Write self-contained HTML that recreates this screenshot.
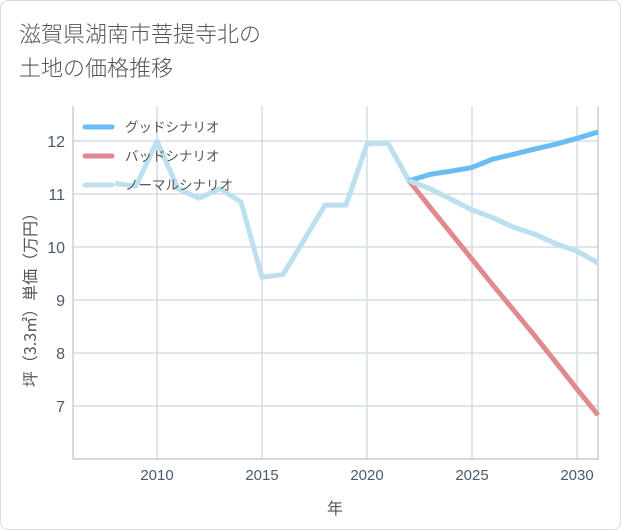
<!DOCTYPE html>
<html><head><meta charset="utf-8"><style>
body{margin:0;background:#fff;font-family:"Liberation Sans","Noto Sans CJK JP",sans-serif}
#wrap{position:relative;width:619px;height:528px;border:1px solid #ddd;border-radius:8px;overflow:hidden}
.title{position:absolute;left:18px;top:15px;font-size:22px;color:#555;line-height:34px;font-family:"Noto Sans CJK JP",sans-serif;font-weight:300}
</style></head><body>
<div id="wrap">
<div class="title">滋賀県湖南市菩提寺北の<br>土地の価格推移</div>
<svg id="c" width="621" height="530" style="position:absolute;left:0;top:0"></svg>
</div>
<script>
const xTicks=[2010,2015,2020,2025,2030];
const yTicks=[7,8,9,10,11,12];
const normalYears=[2008,2009,2010,2011,2012,2013,2014,2015,2016,2017,2018,2019,2020,2021,2022,2023,2024,2025,2026,2027,2028,2029,2030,2031];
const normalVals=[11.2,11.15,12.0,11.1,10.92,11.1,10.85,9.43,9.48,10.13,10.79,10.79,11.94,11.96,11.25,11.1,10.9,10.7,10.55,10.37,10.24,10.06,9.92,9.7];
const futureYears=[2022,2023,2024,2025,2026,2027,2028,2029,2030,2031];
const goodVals=[11.25,11.37,11.43,11.5,11.66,11.75,11.85,11.94,12.05,12.17];
const badVals=[11.25,10.75,10.26,9.77,9.28,8.8,8.32,7.82,7.32,6.83];
const legendLabels=["グッドシナリオ","バッドシナリオ","ノーマルシナリオ"];
const legendColors=["#6bbcf2","#e08a90","#bde0ee"];
const X0=72,X1=597,Y0=105,Y1=458;
const xs=y=>X0+(y-2006)/(2031-2006)*(X1-X0);
const ys=v=>Y1-(v-6.0)/(12.66-6.0)*(Y1-Y0);
const svg=document.getElementById('c');const NS="http://www.w3.org/2000/svg";
function mk(t,a,p){const e=document.createElementNS(NS,t);for(const k in a)e.setAttribute(k,a[k]);(p||svg).appendChild(e);return e;}
xTicks.forEach(t=>{const l=mk('line',{x1:xs(t),x2:xs(t),y1:Y0,y2:Y1,stroke:'#d3dde6','stroke-width':1.5});

const tx=mk('text',{x:xs(t),y:479,'text-anchor':'middle','font-size':15,fill:'#4a5b6b'});tx.textContent=t;
});
yTicks.forEach(t=>{const l=mk('line',{x1:X0,x2:X1,y1:ys(t),y2:ys(t),stroke:'#d3dde6','stroke-width':1.5});

const tx=mk('text',{x:64,y:ys(t)+6,'text-anchor':'end','font-size':16,fill:'#4a5b6b'});tx.textContent=t;
});
const ax=mk('path',{d:`M${X0} ${Y0}V${Y1}H${X1}V${Y0}`,fill:'none',stroke:'#b8c4cf','stroke-width':1.2});

function line(xsArr,vals,col,name){const p=mk('polyline',{points:xsArr.map((y,i)=>xs(y)+','+ys(vals[i])).join(' '),fill:'none',stroke:col,'stroke-width':5,'stroke-linejoin':'round'});
}
line(normalYears,normalVals,legendColors[2],'normal-line');
line(futureYears,badVals,legendColors[1],'bad-line');
line(futureYears,goodVals,legendColors[0],'good-line');
line(normalYears.slice(14),normalVals.slice(14),legendColors[2],'normal-line-future');
legendLabels.forEach((lb,i)=>{const y=126+i*29;
const l=mk('line',{x1:84,x2:111,y1:y,y2:y,stroke:legendColors[i],'stroke-width':5,'stroke-linecap':'round'});

const t=mk('text',{x:124,y:y+5,'font-size':13.5,fill:'#555','font-family':'Noto Sans CJK JP, sans-serif'});t.textContent=lb;
});
const xt=mk('text',{x:334,y:513,'text-anchor':'middle','font-size':16,fill:'#555','font-family':'Noto Sans CJK JP, sans-serif'});xt.textContent='年';

const yt=mk('text',{x:0,y:0,'text-anchor':'middle','font-size':16,fill:'#555','font-family':'Noto Sans CJK JP, sans-serif',transform:'translate(35,295) rotate(-90)'});yt.textContent='坪（3.3㎡）単価（万円）';

</script>
</body></html>
